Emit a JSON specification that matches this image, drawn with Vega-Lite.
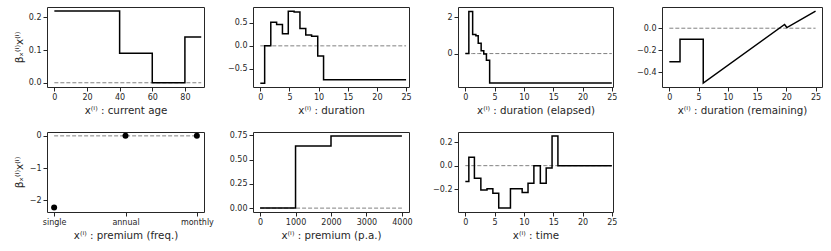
{
  "$schema": "https://vega.github.io/schema/vega-lite/v6.json",
  "padding": {"left": 13, "top": 6, "right": 0, "bottom": 0},
  "background": "white",
  "bounds": "flush",
  "columns": 4,
  "spacing": {"row": 45, "column": 49},
  "datasets": {
    "age": [
      {"x": 0, "y": 0.22}, {"x": 40, "y": 0.09}, {"x": 60, "y": 0.0}, {"x": 80, "y": 0.14}, {"x": 90, "y": 0.14}
    ],
    "duration": [
      {"x": 0, "y": -0.81}, {"x": 0.75, "y": 0.0}, {"x": 1.8, "y": 0.51}, {"x": 2.8, "y": 0.46},
      {"x": 3.8, "y": 0.26}, {"x": 4.8, "y": 0.75}, {"x": 5.8, "y": 0.73}, {"x": 6.8, "y": 0.375},
      {"x": 7.8, "y": 0.235}, {"x": 8.8, "y": 0.21}, {"x": 9.85, "y": -0.22}, {"x": 10.85, "y": -0.735},
      {"x": 25, "y": -0.735}
    ],
    "elapsed": [
      {"x": 0, "y": 0.0}, {"x": 0.6, "y": 2.3}, {"x": 1.25, "y": 1.04}, {"x": 1.8, "y": 0.98},
      {"x": 2.2, "y": 0.57}, {"x": 2.7, "y": 0.15}, {"x": 3.15, "y": -0.02}, {"x": 3.6, "y": -0.37},
      {"x": 4.15, "y": -1.61}, {"x": 25, "y": -1.61}
    ],
    "remaining": [
      {"i": 1, "x": 0, "y": -0.305}, {"i": 2, "x": 1.83, "y": -0.305}, {"i": 3, "x": 1.83, "y": -0.1},
      {"i": 4, "x": 5.8, "y": -0.1}, {"i": 5, "x": 5.8, "y": -0.5}, {"i": 6, "x": 19.7, "y": 0.034},
      {"i": 7, "x": 20.1, "y": 0.006}, {"i": 8, "x": 25, "y": 0.155}
    ],
    "freq": [
      {"x": "single", "y": -2.22}, {"x": "annual", "y": 0.0}, {"x": "monthly", "y": 0.0}
    ],
    "premium": [
      {"x": 0, "y": 0.0}, {"x": 1000, "y": 0.641}, {"x": 2000, "y": 0.743}, {"x": 4000, "y": 0.743}
    ],
    "time": [
      {"x": 0, "y": -0.135}, {"x": 0.6, "y": 0.072}, {"x": 1.55, "y": -0.107}, {"x": 2.65, "y": -0.207},
      {"x": 3.7, "y": -0.196}, {"x": 4.7, "y": -0.236}, {"x": 5.7, "y": -0.36}, {"x": 7.7, "y": -0.196},
      {"x": 9.7, "y": -0.228}, {"x": 10.7, "y": -0.15}, {"x": 11.7, "y": 0.0}, {"x": 12.8, "y": -0.15},
      {"x": 13.8, "y": -0.02}, {"x": 14.8, "y": 0.253}, {"x": 15.8, "y": 0.0}, {"x": 25, "y": 0.0}
    ]
  },
  "concat": [
    {
      "width": 157, "height": 80,
      "data": {"name": "age"},
      "layer": [
        {"mark": {"type": "line", "color": "#808080", "strokeWidth": 1, "strokeDash": [4, 2]},
         "encoding": {"x": {"field": "x", "type": "quantitative"}, "y": {"datum": 0}}},
        {"mark": {"type": "line", "color": "black", "strokeWidth": 1.5, "interpolate": "step-after"},
         "encoding": {
           "x": {"field": "x", "type": "quantitative", "scale": {"domain": [-4.5, 91.7], "nice": false, "zero": false},
                 "axis": {"values": [0, 20, 40, 60, 80], "tickCount": 20, "title": "x⁽ⁱ⁾ : current age"}},
           "y": {"field": "y", "type": "quantitative", "scale": {"domain": [-0.013, 0.232], "nice": false, "zero": false},
                 "axis": {"values": [0, 0.1, 0.2], "tickCount": 20, "format": ".1f", "title": "βₓ⁽ⁱ⁾x⁽ⁱ⁾"}}
         }}
      ]
    },
    {
      "width": 156, "height": 80,
      "data": {"name": "duration"},
      "layer": [
        {"mark": {"type": "line", "color": "#808080", "strokeWidth": 1, "strokeDash": [4, 2]},
         "encoding": {"x": {"field": "x", "type": "quantitative"}, "y": {"datum": 0}}},
        {"mark": {"type": "line", "color": "black", "strokeWidth": 1.5, "interpolate": "step-after"},
         "encoding": {
           "x": {"field": "x", "type": "quantitative", "scale": {"domain": [-1.25, 25.5], "nice": false, "zero": false},
                 "axis": {"values": [0, 5, 10, 15, 20, 25], "tickCount": 20, "title": "x⁽ⁱ⁾ : duration"}},
           "y": {"field": "y", "type": "quantitative", "scale": {"domain": [-0.89, 0.84], "nice": false, "zero": false},
                 "axis": {"values": [-0.5, 0, 0.5], "tickCount": 20, "format": ".1f", "title": null}}
         }}
      ]
    },
    {
      "width": 155, "height": 80,
      "data": {"name": "elapsed"},
      "layer": [
        {"mark": {"type": "line", "color": "#808080", "strokeWidth": 1, "strokeDash": [4, 2]},
         "encoding": {"x": {"field": "x", "type": "quantitative"}, "y": {"datum": 0}}},
        {"mark": {"type": "line", "color": "black", "strokeWidth": 1.5, "interpolate": "step-after"},
         "encoding": {
           "x": {"field": "x", "type": "quantitative", "scale": {"domain": [-1.25, 25.2], "nice": false, "zero": false},
                 "axis": {"values": [0, 5, 10, 15, 20, 25], "tickCount": 20, "title": "x⁽ⁱ⁾ : duration (elapsed)"}},
           "y": {"field": "y", "type": "quantitative", "scale": {"domain": [-1.83, 2.55], "nice": false, "zero": false},
                 "axis": {"values": [0, 2], "tickCount": 20, "format": "d", "title": null}}
         }}
      ]
    },
    {
      "width": 160, "height": 80,
      "data": {"name": "remaining"},
      "layer": [
        {"mark": {"type": "line", "color": "#808080", "strokeWidth": 1, "strokeDash": [4, 2]},
         "encoding": {"x": {"field": "x", "type": "quantitative"}, "y": {"datum": 0}}},
        {"mark": {"type": "line", "color": "black", "strokeWidth": 1.5},
         "encoding": {
           "x": {"field": "x", "type": "quantitative", "scale": {"domain": [-1.25, 26.1], "nice": false, "zero": false},
                 "axis": {"values": [0, 5, 10, 15, 20, 25], "tickCount": 20, "title": "x⁽ⁱ⁾ : duration (remaining)"}},
           "y": {"field": "y", "type": "quantitative", "scale": {"domain": [-0.535, 0.193], "nice": false, "zero": false},
                 "axis": {"values": [-0.4, -0.2, 0], "tickCount": 20, "format": ".1f", "title": null}},
           "order": {"field": "i", "type": "quantitative"}
         }}
      ]
    },
    {
      "width": 157, "height": 80,
      "data": {"name": "freq"},
      "layer": [
        {"mark": {"type": "line", "color": "#808080", "strokeWidth": 1, "strokeDash": [4, 2]},
         "encoding": {"x": {"field": "x", "type": "nominal", "sort": ["single", "annual", "monthly"]}, "y": {"datum": 0}}},
        {"mark": {"type": "point", "filled": true, "color": "black", "size": 36, "opacity": 1},
         "encoding": {
           "x": {"field": "x", "type": "nominal", "sort": ["single", "annual", "monthly"],
                 "scale": {"type": "point", "padding": 0.1},
                 "axis": {"labelAngle": 0, "labelAlign": "center", "labelBaseline": "top", "title": "x⁽ⁱ⁾ : premium (freq.)"}},
           "y": {"field": "y", "type": "quantitative", "scale": {"domain": [-2.36, 0.12], "nice": false, "zero": false},
                 "axis": {"values": [-2, -1, 0], "tickCount": 20, "format": "d", "title": "βₓ⁽ⁱ⁾x⁽ⁱ⁾"}}
         }}
      ]
    },
    {
      "width": 156, "height": 80,
      "data": {"name": "premium"},
      "layer": [
        {"mark": {"type": "line", "color": "#808080", "strokeWidth": 1, "strokeDash": [4, 2]},
         "encoding": {"x": {"field": "x", "type": "quantitative"}, "y": {"datum": 0}}},
        {"mark": {"type": "line", "color": "black", "strokeWidth": 1.5, "interpolate": "step-after"},
         "encoding": {
           "x": {"field": "x", "type": "quantitative", "scale": {"domain": [-200, 4200], "nice": false, "zero": false},
                 "axis": {"values": [0, 1000, 2000, 3000, 4000], "tickCount": 20, "format": "d", "title": "x⁽ⁱ⁾ : premium (p.a.)"}},
           "y": {"field": "y", "type": "quantitative", "scale": {"domain": [-0.04, 0.785], "nice": false, "zero": false},
                 "axis": {"values": [0, 0.25, 0.5, 0.75], "tickCount": 20, "format": ".2f", "title": null}}
         }}
      ]
    },
    {
      "width": 155, "height": 80,
      "data": {"name": "time"},
      "layer": [
        {"mark": {"type": "line", "color": "#808080", "strokeWidth": 1, "strokeDash": [4, 2]},
         "encoding": {"x": {"field": "x", "type": "quantitative"}, "y": {"datum": 0}}},
        {"mark": {"type": "line", "color": "black", "strokeWidth": 1.5, "interpolate": "step-after"},
         "encoding": {
           "x": {"field": "x", "type": "quantitative", "scale": {"domain": [-1.25, 25.2], "nice": false, "zero": false},
                 "axis": {"values": [0, 5, 10, 15, 20, 25], "tickCount": 20, "title": "x⁽ⁱ⁾ : time"}},
           "y": {"field": "y", "type": "quantitative", "scale": {"domain": [-0.395, 0.287], "nice": false, "zero": false},
                 "axis": {"values": [-0.2, 0, 0.2], "tickCount": 20, "format": ".1f", "title": null}}
         }}
      ]
    }
  ],
  "config": {
    "font": "DejaVu Sans",
    "view": {"stroke": "#262626", "strokeWidth": 1},
    "axis": {
      "domain": false, "grid": false, "ticks": true, "tickColor": "#262626", "tickSize": 4, "tickWidth": 1,
      "labelColor": "#262626", "labelFontSize": 8, "labelPadding": 2, "labelFlush": false, "labelOverlap": false,
      "titleColor": "#262626", "titleFontSize": 10.3, "titleFontWeight": "normal", "titlePadding": 4
    },
    "axisY": {"minExtent": 20, "maxExtent": 20, "titleAnchor": "middle", "titleFontSize": 10.5, "titlePadding": 3}
  }
}
